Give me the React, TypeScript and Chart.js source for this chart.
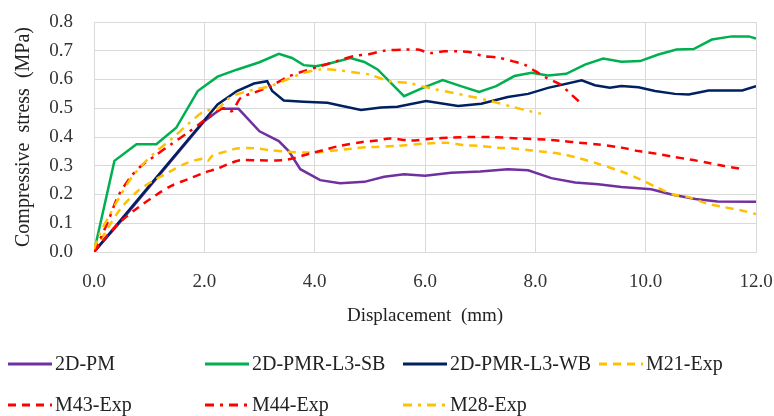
import React, { useEffect, useRef } from "react";
import { Chart, registerables } from "chart.js";

Chart.register(...registerables);

// ---- Data (displacement in mm, compressive stress in MPa) ----
const seriesLabels = ["2D-PM", "2D-PMR-L3-SB", "2D-PMR-L3-WB", "M21-Exp", "M43-Exp", "M44-Exp", "M28-Exp"];

const pmX = [0, 0.5, 1.0, 1.5, 2.0, 2.3, 2.62, 3.0, 3.35, 3.53, 3.74, 4.1, 4.46, 4.9, 5.26, 5.62, 6.0, 6.47, 7.0, 7.5, 7.87, 8.29, 8.72, 9.14, 9.56, 10.1, 10.47, 10.9, 11.3, 12.0];
const pmY = [0, 0.11, 0.225, 0.34, 0.455, 0.498, 0.498, 0.42, 0.386, 0.351, 0.288, 0.25, 0.239, 0.244, 0.262, 0.27, 0.265, 0.276, 0.28, 0.288, 0.284, 0.257, 0.242, 0.236, 0.226, 0.218, 0.2, 0.184, 0.176, 0.175];

const sbX = [0, 0.37, 0.77, 1.13, 1.49, 1.88, 2.24, 2.6, 3.0, 3.35, 3.59, 3.8, 4.02, 4.23, 4.65, 4.9, 5.14, 5.35, 5.62, 5.96, 6.32, 6.65, 6.98, 7.29, 7.62, 7.93, 8.23, 8.56, 8.9, 9.23, 9.56, 9.9, 10.23, 10.56, 10.87, 11.2, 11.56, 11.87, 12.0];
const sbY = [0, 0.317, 0.375, 0.375, 0.432, 0.56, 0.61, 0.635, 0.66, 0.689, 0.675, 0.65, 0.646, 0.654, 0.675, 0.661, 0.635, 0.594, 0.542, 0.571, 0.598, 0.577, 0.557, 0.577, 0.612, 0.623, 0.614, 0.62, 0.652, 0.673, 0.662, 0.664, 0.687, 0.704, 0.706, 0.739, 0.75, 0.75, 0.742];

const wbX = [0, 1.0, 2.24, 2.59, 2.9, 3.14, 3.23, 3.44, 3.8, 4.23, 4.5, 4.84, 5.2, 5.5, 6.02, 6.6, 7.02, 7.5, 7.87, 8.23, 8.84, 9.08, 9.35, 9.56, 9.87, 10.17, 10.53, 10.78, 11.14, 11.75, 12.0];
const wbY = [0, 0.229, 0.513, 0.56, 0.586, 0.594, 0.56, 0.527, 0.523, 0.519, 0.508, 0.494, 0.503, 0.505, 0.525, 0.508, 0.516, 0.539, 0.55, 0.571, 0.597, 0.58, 0.571, 0.577, 0.573, 0.56, 0.55, 0.548, 0.562, 0.562, 0.577];

const m21X = [0, 0.08, 0.26, 0.5, 0.8, 1.1, 1.34, 1.7, 2.0, 2.06, 2.15, 2.42, 2.59, 2.9, 3.2, 3.5, 3.8, 4.1, 4.7, 5.0, 5.5, 6.0, 6.4, 6.7, 7.0, 7.3, 7.6, 7.9, 8.2, 8.5, 8.8, 9.1, 9.56, 9.87, 10.2, 10.5, 10.8, 11.1, 11.4, 11.7, 12.0];
const m21Y = [0, 0.028, 0.086, 0.155, 0.213, 0.251, 0.276, 0.311, 0.325, 0.317, 0.335, 0.351, 0.36, 0.361, 0.354, 0.349, 0.346, 0.348, 0.36, 0.365, 0.369, 0.377, 0.38, 0.372, 0.369, 0.363, 0.36, 0.354, 0.348, 0.34, 0.326, 0.309, 0.28, 0.255, 0.225, 0.2, 0.19, 0.169, 0.157, 0.146, 0.132];

const m43X = [0, 0.26, 0.5, 0.8, 1.1, 1.4, 1.7, 2.0, 2.24, 2.42, 2.65, 3.0, 3.43, 3.65, 3.9, 4.15, 4.45, 4.84, 5.14, 5.35, 5.75, 6.1, 6.5, 6.8, 7.2, 7.7, 8.2, 8.5, 8.8, 9.1, 9.56, 9.87, 10.2, 10.5, 10.8, 11.1, 11.4, 11.7];
const m43Y = [0, 0.062, 0.109, 0.155, 0.195, 0.23, 0.253, 0.276, 0.29, 0.305, 0.319, 0.319, 0.319, 0.328, 0.342, 0.354, 0.369, 0.382, 0.388, 0.395, 0.388, 0.394, 0.398, 0.4, 0.4, 0.395, 0.391, 0.386, 0.38, 0.375, 0.363, 0.351, 0.342, 0.331, 0.322, 0.311, 0.3, 0.29];

const m44X = [0, 0.1, 0.26, 0.44, 0.68, 0.86, 1.1, 1.4, 1.7, 2.0, 2.24, 2.35, 2.5, 2.66, 2.9, 3.2, 3.5, 3.8, 4.1, 4.4, 4.7, 5.0, 5.26, 5.62, 5.87, 6.1, 6.35, 6.6, 6.8, 7.06, 7.3, 7.6, 7.8, 8.0, 8.2, 8.45, 8.6, 8.8];
const m44Y = [0, 0.04, 0.109, 0.195, 0.265, 0.3, 0.334, 0.375, 0.415, 0.458, 0.49, 0.5, 0.49, 0.536, 0.554, 0.577, 0.608, 0.629, 0.646, 0.664, 0.681, 0.689, 0.7, 0.704, 0.704, 0.692, 0.698, 0.698, 0.696, 0.681, 0.677, 0.663, 0.652, 0.629, 0.606, 0.583, 0.557, 0.522];

const m28X = [0, 0.1, 0.26, 0.44, 0.68, 0.86, 1.1, 1.4, 1.7, 2.0, 2.24, 2.42, 2.59, 2.9, 3.2, 3.5, 3.8, 4.1, 4.4, 4.7, 5.0, 5.35, 5.7, 6.1, 6.5, 6.8, 7.2, 7.6, 7.9, 8.1];
const m28Y = [0.01, 0.062, 0.12, 0.184, 0.259, 0.3, 0.345, 0.392, 0.444, 0.49, 0.498, 0.531, 0.548, 0.565, 0.577, 0.6, 0.623, 0.635, 0.633, 0.625, 0.617, 0.594, 0.588, 0.569, 0.554, 0.542, 0.525, 0.504, 0.49, 0.481];

const xTicks = [0, 2, 4, 6, 8, 10, 12];
const yTicks = [0, 0.1, 0.2, 0.3, 0.4, 0.5, 0.6, 0.7, 0.8];

const FONT = "'Liberation Serif', 'Times New Roman', serif";

const zip = (xs: number[], ys: number[]) => xs.map((x, i) => ({ x, y: ys[i] }));

const legendPlugin = {
  id: "gridLegend",
  afterDraw(chart: any) {
    const ctx = chart.ctx;
    const cols = [8, 205, 403, 599];
    const rows = [364, 405];
    ctx.save();
    ctx.font = `20px ${FONT}`;
    ctx.textBaseline = "middle";
    ctx.textAlign = "left";
    chart.data.datasets.forEach((ds: any, i: number) => {
      const x = cols[i % 4];
      const y = rows[Math.floor(i / 4)];
      ctx.strokeStyle = ds.borderColor;
      ctx.lineWidth = 3;
      ctx.setLineDash(ds.borderDash || []);
      ctx.beginPath();
      ctx.moveTo(x, y);
      ctx.lineTo(x + 44, y);
      ctx.stroke();
      ctx.setLineDash([]);
      ctx.fillStyle = "#222";
      ctx.fillText(ds.label, x + 47, y + 1);
    });
    ctx.restore();
  },
};

export default function App() {
  const ref = useRef<HTMLCanvasElement | null>(null);

  useEffect(() => {
    if (!ref.current) return;
    const dashed = [8, 6];
    const dashDot = [9, 6, 3, 6];
    const styles = [
      { c: "#7030A0", d: [] as number[], t: 0 },
      { c: "#00B050", d: [] as number[], t: 0 },
      { c: "#002060", d: [] as number[], t: 0 },
      { c: "#FFC000", d: dashed, t: 0.3 },
      { c: "#FF0000", d: dashed, t: 0.3 },
      { c: "#FF0000", d: dashDot, t: 0.3 },
      { c: "#FFC000", d: dashDot, t: 0.3 },
    ];
    const pts = [zip(pmX, pmY), zip(sbX, sbY), zip(wbX, wbY), zip(m21X, m21Y), zip(m43X, m43Y), zip(m44X, m44Y), zip(m28X, m28Y)];
    const datasets = pts.map((data, i) => ({
      label: seriesLabels[i],
      data,
      borderColor: styles[i].c,
      backgroundColor: styles[i].c,
      borderDash: styles[i].d,
      borderWidth: 2.5,
      pointRadius: 0,
      tension: styles[i].t,
      fill: false,
      order: 10 - i,
    }));

    const chart = new Chart(ref.current, {
      type: "line",
      data: { datasets },
      plugins: [legendPlugin],
      options: {
        responsive: false,
        animation: false,
        layout: { padding: { left: 0, right: 18, top: 22, bottom: 86 } },
        plugins: { legend: { display: false }, tooltip: { enabled: false } },
        scales: {
          x: {
            type: "linear",
            min: 0,
            max: 12,
            afterFit: (s: any) => {
              s.height = 78;
              s.paddingLeft = 0;
              s.paddingRight = 0;
            },
            afterBuildTicks: (s: any) => { s.ticks = xTicks.map((v) => ({ value: v })); },
            grid: { color: "#d9d9d9", lineWidth: 1, drawTicks: false },
            border: { color: "#d9d9d9" },
            ticks: {
              padding: 19,
              color: "#333",
              font: { family: FONT, size: 19 },
              callback: (v: any) => Number(v).toFixed(1),
            },
            title: {
              display: true,
              text: "Displacement  (mm)",
              color: "#222",
              font: { family: FONT, size: 19 },
              padding: { top: 0, bottom: 3 },
            },
          },
          y: {
            type: "linear",
            min: 0,
            max: 0.8,
            afterFit: (s: any) => {
              s.width = 94;
              s.paddingTop = 0;
              s.paddingBottom = 0;
            },
            afterBuildTicks: (s: any) => { s.ticks = yTicks.map((v) => ({ value: v })); },
            grid: { color: "#d9d9d9", lineWidth: 1, drawTicks: false },
            border: { color: "#d9d9d9" },
            ticks: {
              padding: 21,
              color: "#333",
              font: { family: FONT, size: 19 },
              callback: (v: any) => Number(v).toFixed(1),
            },
            title: {
              display: true,
              text: "Compressive  stress  (MPa)",
              color: "#222",
              font: { family: FONT, size: 20 },
              padding: { top: 12, bottom: 0 },
            },
          },
        },
      },
    });
    return () => chart.destroy();
  }, []);

  return (
    <div style={{ position: "absolute", left: 0, top: 0, width: 774, height: 416, background: "#fff" }}>
      <canvas ref={ref} width={774} height={416} style={{ display: "block" }} />
    </div>
  );
}
